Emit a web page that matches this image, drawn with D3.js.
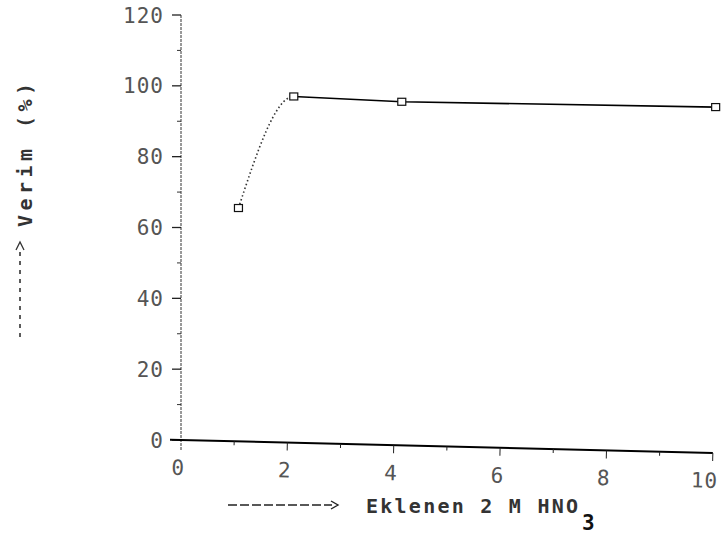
<!DOCTYPE html>
<html>
<head>
<meta charset="utf-8">
<script src="https://cdn.jsdelivr.net/npm/d3@7"></script>
<style>
  html, body { margin: 0; padding: 0; background: #fff; }
  svg { display: block; }
  text { font-family: "DejaVu Sans Mono", "Liberation Mono", monospace; }
</style>
</head>
<body>
<svg id="chart" width="721" height="536"></svg>
<script>
// Added 2 M HNO3 (x) versus yield in percent (y)
const acidAdded = [1.08, 2.12, 4.15, 10.05];
const yieldPct = [65.5, 97, 95.5, 94];
const xTicks = [0, 2, 4, 6, 8, 10];
const yTicks = [0, 20, 40, 60, 80, 100, 120];
const xTitle = "Eklenen 2 M HNO";
const xTitleSub = "3";
const yTitle = "Verim (%)";

const svg = d3.select("#chart");
const x = d3.scaleLinear().domain([0, 10]).range([181, 713]);
const y = d3.scaleLinear().domain([0, 120]).range([440, 15]);
const pts = acidAdded.map((v, i) => [v, yieldPct[i]]);

// ---- y axis ----
const yAxis = svg.append("g").attr("transform", `translate(${x(0)},0)`);
yAxis.append("line")
  .attr("x1", 0).attr("x2", 0)
  .attr("y1", y(120)).attr("y2", y(0) + 10)
  .attr("stroke", "#333").attr("stroke-width", 1)
  .attr("stroke-dasharray", "3,1");
yAxis.selectAll(".ymin").data(d3.range(10, 120, 20)).join("line")
  .attr("x1", -4).attr("x2", 0)
  .attr("y1", d => y(d)).attr("y2", d => y(d))
  .attr("stroke", "#333");
yAxis.selectAll(".ymaj").data(yTicks).join("line")
  .attr("x1", -9).attr("x2", 0)
  .attr("y1", d => y(d)).attr("y2", d => y(d))
  .attr("stroke", "#222").attr("stroke-width", 1.3);
yAxis.selectAll(".ylab").data(yTicks).join("text")
  .attr("x", -17).attr("y", d => y(d)).attr("dy", "0.36em")
  .attr("text-anchor", "end")
  .attr("font-size", 21).attr("fill", "#555")
  .attr("letter-spacing", 1)
  .text(d => d);

// ---- x axis (plotted baseline runs slightly downhill) ----
const xAxis = svg.append("g")
  .attr("transform", `rotate(1.4, ${x(0)}, ${y(0)})`);
xAxis.append("line")
  .attr("x1", x(0) - 11).attr("x2", x(10))
  .attr("y1", y(0)).attr("y2", y(0))
  .attr("stroke", "#000").attr("stroke-width", 2);
xAxis.selectAll(".xmin").data(d3.range(1, 10, 2)).join("line")
  .attr("x1", d => x(d)).attr("x2", d => x(d))
  .attr("y1", y(0)).attr("y2", y(0) + 4)
  .attr("stroke", "#222");
xAxis.selectAll(".xmaj").data(xTicks.slice(1)).join("line")
  .attr("x1", d => x(d)).attr("x2", d => x(d))
  .attr("y1", y(0)).attr("y2", y(0) + 8)
  .attr("stroke", "#222");
xAxis.selectAll(".xlab").data(xTicks).join("text")
  .attr("x", d => x(d) - 2).attr("y", y(0) + 20).attr("dy", "0.71em")
  .attr("text-anchor", (d, i) => i === xTicks.length - 1 ? "end" : "middle")
  .attr("dx", (d, i) => i === xTicks.length - 1 ? 8 : 0)
  .attr("font-size", 21).attr("fill", "#555")
  .attr("letter-spacing", 1)
  .text(d => d);

// ---- data ----
// clip so the dotted curve only covers the rising part
svg.append("clipPath").attr("id", "rise")
  .append("rect")
  .attr("x", 0).attr("y", 0)
  .attr("width", x(acidAdded[1])).attr("height", 536);

const curve = d3.line().x(d => x(d[0])).y(d => y(d[1])).curve(d3.curveMonotoneX);
svg.append("path")
  .attr("d", curve(pts))
  .attr("clip-path", "url(#rise)")
  .attr("fill", "none").attr("stroke", "#333")
  .attr("stroke-width", 1.6).attr("stroke-dasharray", "1.5,2.5");

const straight = d3.line().x(d => x(d[0])).y(d => y(d[1]));
svg.append("path")
  .attr("d", straight(pts.slice(1)))
  .attr("fill", "none").attr("stroke", "#000").attr("stroke-width", 1.6);

svg.selectAll(".pt").data(pts).join("rect")
  .attr("x", d => x(d[0]) - 4).attr("y", d => y(d[1]) - 3.5)
  .attr("width", 8).attr("height", 7)
  .attr("fill", "#fff").attr("stroke", "#111").attr("stroke-width", 1.2);

// ---- axis titles ----
const xt = svg.append("g");
xt.append("line")
  .attr("x1", 228).attr("x2", 332).attr("y1", 505).attr("y2", 505)
  .attr("stroke", "#222").attr("stroke-width", 1.6)
  .attr("stroke-dasharray", "9,3");
xt.append("path")
  .attr("d", "M331,501 L338,505 L331,509")
  .attr("fill", "none").attr("stroke", "#222").attr("stroke-width", 1.4);
xt.append("text")
  .attr("x", 366).attr("y", 513)
  .attr("font-size", 20).attr("font-weight", "bold").attr("fill", "#333")
  .attr("textLength", 212).attr("lengthAdjust", "spacing")
  .text(xTitle);
xt.append("text")
  .attr("x", 582).attr("y", 530)
  .attr("font-size", 21).attr("font-weight", "bold").attr("fill", "#111")
  .text(xTitleSub);

const yt = svg.append("g");
yt.append("line")
  .attr("x1", 20).attr("x2", 20).attr("y1", 337).attr("y2", 248)
  .attr("stroke", "#333").attr("stroke-width", 1.6)
  .attr("stroke-dasharray", "4,5");
yt.append("path")
  .attr("d", "M16,250 L20,242 L24,250")
  .attr("fill", "none").attr("stroke", "#333").attr("stroke-width", 1.3);
yt.append("text")
  .attr("transform", "translate(32,227) rotate(-90)")
  .attr("font-size", 20).attr("font-weight", "bold").attr("fill", "#333")
  .attr("textLength", 144).attr("lengthAdjust", "spacing")
  .text(yTitle);
</script>
</body>
</html>
